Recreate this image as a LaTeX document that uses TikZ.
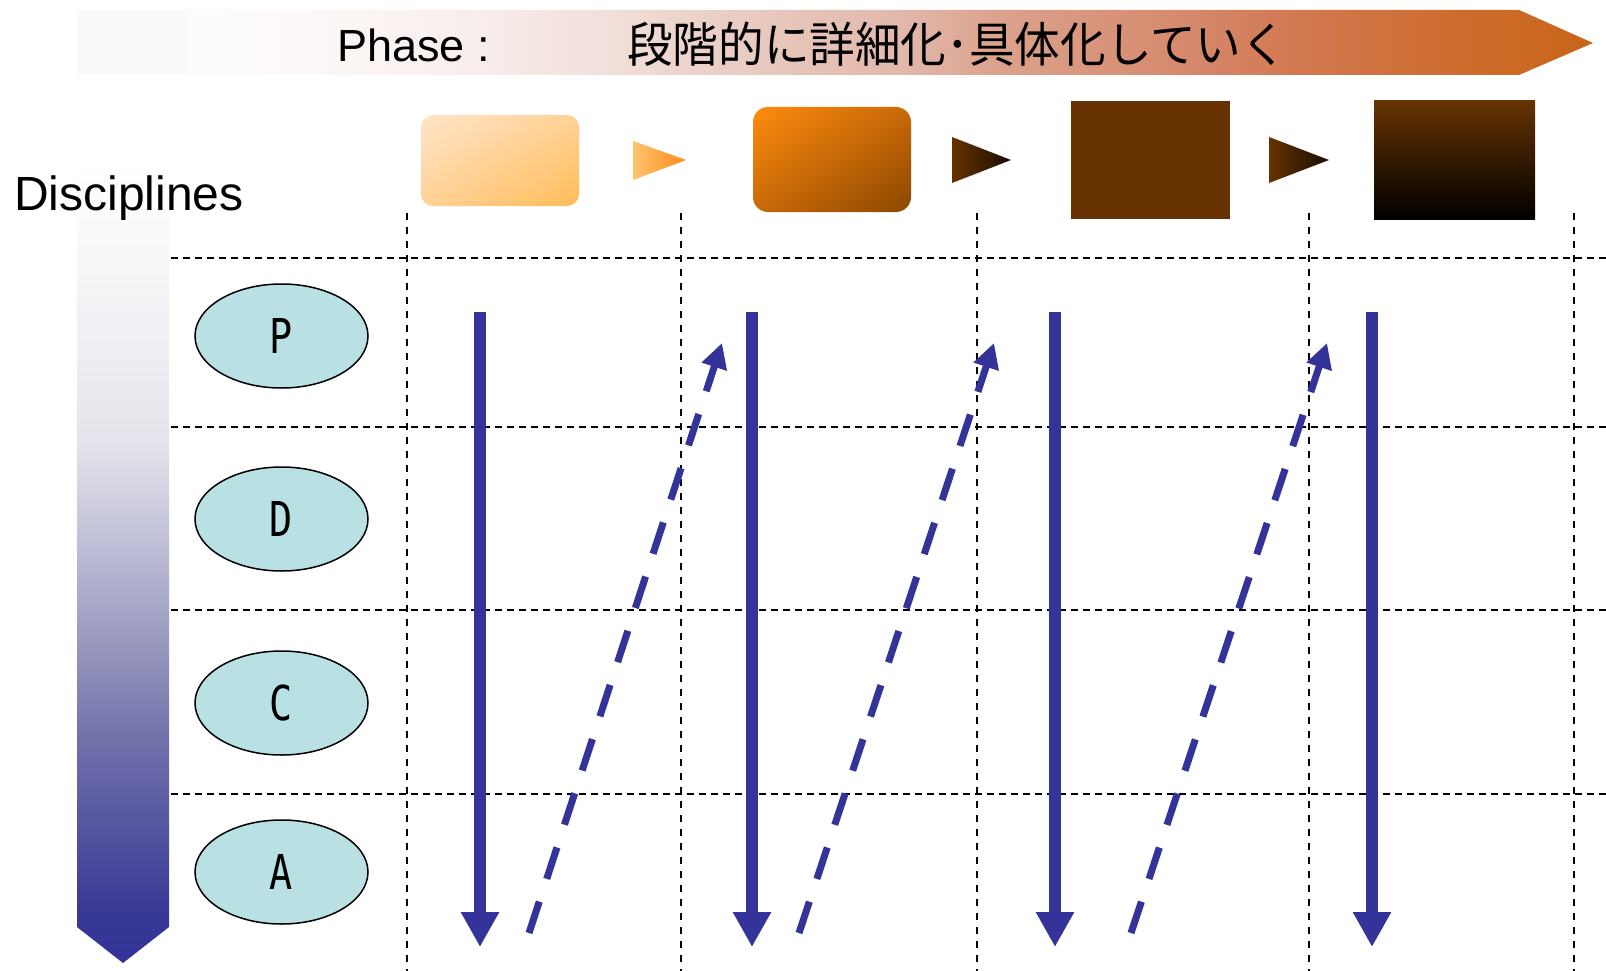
\documentclass[tikz,border=0pt]{standalone}
\usepackage{fontspec}
\setmainfont{Liberation Sans}
\newfontfamily\jpfont{Noto Sans CJK JP}
\newfontfamily\letterfont{DejaVu Sans Mono}
\usetikzlibrary{arrows.meta,shapes.geometric,shadings}
\definecolor{navy}{RGB}{51,51,153}
\definecolor{bluefill}{RGB}{185,224,227}
\definecolor{b1a}{RGB}{255,228,201}
\definecolor{b1m}{RGB}{255,210,150}
\definecolor{b1b}{RGB}{255,188,88}
\definecolor{b2a}{RGB}{255,140,14}
\definecolor{b2m}{RGB}{200,105,8}
\definecolor{b2b}{RGB}{139,71,0}
\definecolor{t1a}{RGB}{255,196,110}
\definecolor{t1b}{RGB}{255,138,28}
\definecolor{brown}{RGB}{102,51,0}
\definecolor{t2b}{RGB}{26,12,0}
\definecolor{b4m}{RGB}{80,40,0}
\definecolor{bandpre}{RGB}{249,249,249}
% band stops
\definecolor{ba0}{RGB}{253,252,252}
\definecolor{ba1}{RGB}{253,249,248}
\definecolor{ba2}{RGB}{248,238,236}
\definecolor{ba3}{RGB}{242,224,220}
\definecolor{ba4}{RGB}{230,196,184}
\definecolor{ba5}{RGB}{226,184,172}
\definecolor{ba6}{RGB}{219,162,140}
\definecolor{ba7}{RGB}{213,135,106}
\definecolor{ba8}{RGB}{210,120,80}
\definecolor{ba9}{RGB}{206,109,48}
\definecolor{ba10}{RGB}{200,100,24}
\pgfdeclarehorizontalshading{bandshade}{100bp}{
  color(0bp)=(ba0); color(25bp)=(ba0); color(29.1bp)=(ba1); color(35.1bp)=(ba2);
  color(39.7bp)=(ba3); color(46.8bp)=(ba4); color(50.4bp)=(ba5);
  color(53.9bp)=(ba6); color(61bp)=(ba7); color(64.6bp)=(ba8);
  color(69.9bp)=(ba9); color(75bp)=(ba10); color(100bp)=(ba10)}
% discipline arrow stops (bottom = 25bp, top = 75bp)
\definecolor{da1}{RGB}{56,56,150}
\definecolor{da2}{RGB}{82,82,160}
\definecolor{da3}{RGB}{116,116,172}
\definecolor{da4}{RGB}{156,156,192}
\definecolor{da5}{RGB}{192,192,216}
\definecolor{da6}{RGB}{228,228,236}
\definecolor{da7}{RGB}{248,248,250}
\pgfdeclareverticalshading{discshade}{100bp}{
  color(0bp)=(navy); color(25bp)=(navy); color(28bp)=(da1); color(33bp)=(da2);
  color(39.5bp)=(da3); color(45.5bp)=(da4); color(51.5bp)=(da5);
  color(57.5bp)=(da6); color(69.5bp)=(da7); color(75bp)=(white); color(100bp)=(white)}
\tikzset{
  gridh/.style={line width=1.8pt, dash pattern=on 7pt off 5pt},
  gridv/.style={line width=1.8pt, dash pattern=on 7pt off 7pt},
  disc/.style={ellipse, draw=black, line width=1.5pt, fill=bluefill,
    minimum width=173pt, minimum height=104pt, inner sep=0pt,
    font=\letterfont\fontsize{48}{48}\selectfont},
  downarrow/.style={draw=navy, line width=12pt,
    -{Triangle[length=35pt,width=36pt]}},
  uparrow/.style={draw=navy, line width=7pt, dash pattern=on 33pt off 24pt,
    -{Triangle[length=25pt,width=25pt]}},
  phasebox/.style={inner sep=0pt, draw=none}
}
\newcommand{\narrow}[1]{\scalebox{0.8}[1]{#1}}
\begin{document}
\begin{tikzpicture}[x=1pt,y=-1pt]
\useasboundingbox (0,0) rectangle (1606,971);
\fill[white] (0,0) rectangle (1606,971);

% phase band
\fill[bandpre] (77,10) rectangle (186,75);
\shade[shading=bandshade]
  (186,10) -- (1519,10) -- (1593,43) -- (1519,75) -- (186,75) -- cycle;
\node[font=\fontsize{45}{45}\selectfont, anchor=base west, inner sep=0pt]
  (phase) at (337,62) {Phase :};
\node[font=\jpfont\fontsize{48}{48}\selectfont, anchor=west, inner sep=0pt]
  (jp) at (627,44) {\scalebox{0.95}[1]{段階的に詳細化･具体化していく}};

% disciplines arrow
\shade[shading=discshade]
  (77,162) -- (169,162) -- (169,927) -- (123,963) -- (77,927) -- cycle;
\node[font=\fontsize{48}{48}\selectfont, anchor=base west, inner sep=0pt]
  (disc) at (14,210) {Disciplines};

% phase boxes
\node[phasebox, rounded corners=12pt, minimum width=158pt, minimum height=91pt,
  upper left=b1a, lower right=b1b, upper right=b1m, lower left=b1m]
  (ph1) at (500,160.5) {};
\node[phasebox, rounded corners=15pt, minimum width=158pt, minimum height=105pt,
  upper left=b2a, lower right=b2b, upper right=b2m, lower left=b2m]
  (ph2) at (832,159.5) {};
\node[phasebox, fill=brown, minimum width=159pt, minimum height=118pt]
  (ph3) at (1150.5,160) {};
\node[phasebox, minimum width=161pt, minimum height=118pt,
  top color=brown, middle color=b4m, bottom color=black]
  (ph4) at (1454.5,160) {};

% small triangles
\shade[left color=t1a, right color=t1b] (633,141) -- (686,160) -- (633,180) -- cycle;
\shade[left color=brown, right color=t2b] (952,137) -- (1011,160) -- (952,183) -- cycle;
\shade[left color=brown, right color=t2b] (1269,137) -- (1329,160) -- (1269,183) -- cycle;

% grid
\foreach \yy in {258,427,610,794} \draw[gridh] (171,\yy) -- (1606,\yy);
\foreach \xx in {407,681,977,1309,1574} \draw[gridv] (\xx,213) -- (\xx,971);

% discipline ellipses
\node[disc] (P) at (281.5,336) {\narrow{P}};
\node[disc] (D) at (281.5,519) {\narrow{D}};
\node[disc] (C) at (281.5,703) {\narrow{C}};
\node[disc] (A) at (281.5,872) {\narrow{A}};

% arrow end points
\foreach \i/\xx in {1/480,2/752,3/1055,4/1372} {
  \coordinate (s\i top) at (\xx,312);
  \coordinate (s\i bot) at (\xx,947);
}
\coordinate (u1bot) at (529,933); \coordinate (u1top) at (722,343);
\coordinate (u2bot) at (799,933); \coordinate (u2top) at (994,343);
\coordinate (u3bot) at (1131,933); \coordinate (u3top) at (1327,343);

\foreach \i in {1,2,3,4} \draw[downarrow] (s\i top) -- (s\i bot);
\foreach \i in {1,2,3} \draw[uparrow] (u\i bot) -- (u\i top);
\end{tikzpicture}
\end{document}
